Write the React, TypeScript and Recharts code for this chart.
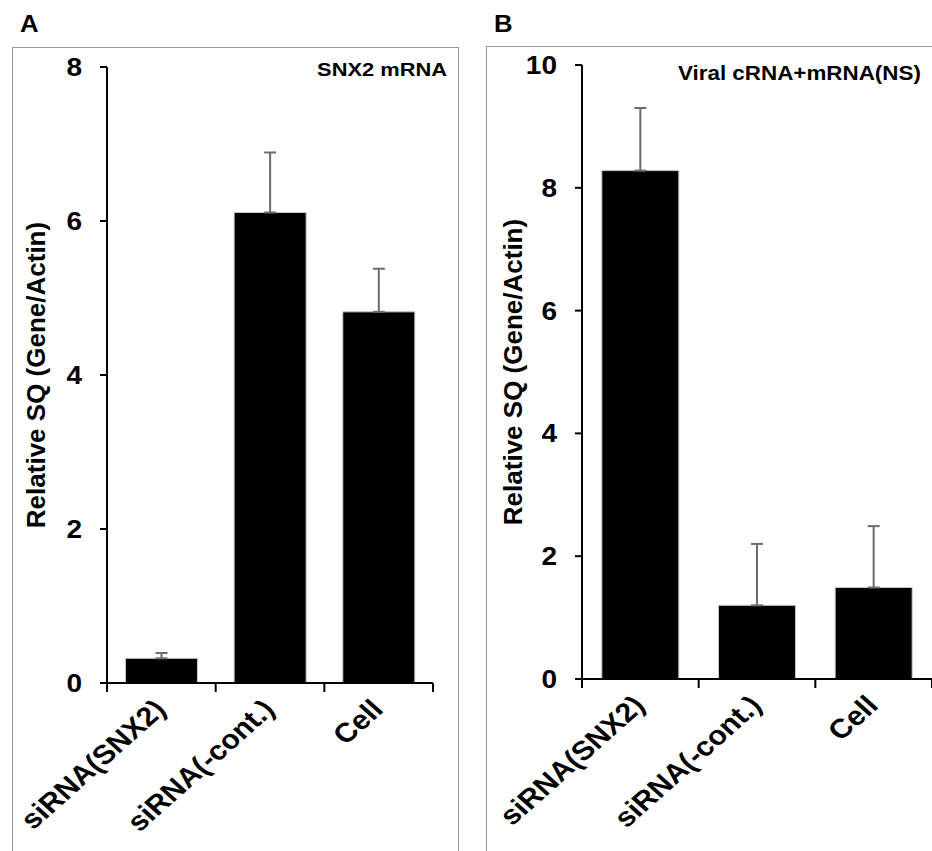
import React from 'react';
import { BarChart, Bar, XAxis, YAxis, ErrorBar, Label } from 'recharts';

const categories = ['siRNA(SNX2)', 'siRNA(-cont.)', 'Cell'];

// panel A: SNX2 mRNA
const snx2Values = [0.32, 6.11, 4.82];
const snx2Errors = [0.07, 0.78, 0.56];
const snx2Ticks = [0, 2, 4, 6, 8];

// panel B: viral cRNA + mRNA (NS)
const viralValues = [8.28, 1.2, 1.49];
const viralErrors = [1.02, 1.0, 1.0];
const viralTicks = [0, 2, 4, 6, 8, 10];

const yTitle = 'Relative SQ (Gene/Actin)';
const FONT = '"Liberation Sans", Arial, sans-serif';
// the source figure is a little wider than tall, text included
const STRETCH = 1.12;

const buildRows = (values: number[], errors: number[]) =>
  categories.map((name, i) => ({ name, value: values[i], err: [0, errors[i]] }));

const CategoryTick = (props: any) => {
  const { x, y, payload, index, band, count } = props;
  const half = band / 2;
  return (
    <g>
      <line x1={x - half} y1={y} x2={x - half} y2={y + 9} stroke="#000" strokeWidth={2} />
      {index === count - 1 && (
        <line x1={x + half} y1={y} x2={x + half} y2={y + 9} stroke="#000" strokeWidth={2} />
      )}
      <text
        x={0}
        y={0}
        transform={`translate(${x + 6},${y + 28}) scale(${STRETCH},1) rotate(-45)`}
        textAnchor="end"
        fontSize={27}
        fontWeight="bold"
        fontFamily={FONT}
        fill="#000"
      >
        {payload.value}
      </text>
    </g>
  );
};

const ValueTick = (props: any) => {
  const { x, y, payload } = props;
  return (
    <text
      x={0}
      y={0}
      dy="0.36em"
      transform={`translate(${x},${y}) scale(${STRETCH},1)`}
      textAnchor="end"
      fontSize={25}
      fontWeight="bold"
      fontFamily={FONT}
      fill="#000"
    >
      {payload.value}
    </text>
  );
};

interface PanelProps {
  left: number;
  width: number;
  margin: { top: number; right: number; bottom: number; left: number };
  yWidth: number;
  xHeight: number;
  values: number[];
  errors: number[];
  ticks: number[];
  titleOffset: number;
}

const Panel = ({ left, width, margin, yWidth, xHeight, values, errors, ticks, titleOffset }: PanelProps) => {
  const data = buildRows(values, errors);
  const band = (width - margin.left - margin.right - yWidth) / categories.length;
  return (
    <div style={{ position: 'absolute', left, top: 0 }}>
      <BarChart width={width} height={851} data={data} margin={margin} barCategoryGap="17%">
        <XAxis
          dataKey="name"
          height={xHeight}
          stroke="#000"
          strokeWidth={2}
          tickLine={false}
          tickSize={0}
          tickMargin={0}
          interval={0}
          tick={<CategoryTick band={band} count={categories.length} />}
        />
        <YAxis
          width={yWidth}
          domain={[0, ticks[ticks.length - 1]]}
          ticks={ticks}
          interval={0}
          stroke="#000"
          strokeWidth={2}
          tickSize={7}
          tickMargin={18}
          tick={<ValueTick />}
        >
          <Label
            value={yTitle}
            position="insideLeft"
            offset={titleOffset}
            angle={-90}
            style={{ textAnchor: 'middle' }}
            fontSize={26}
            fontWeight="bold"
            fontFamily={FONT}
            fill="#000"
          />
        </YAxis>
        <Bar dataKey="value" fill="#000" stroke="#c8c8c8" strokeWidth={1} isAnimationActive={false}>
          <ErrorBar dataKey="err" direction="y" width={6} stroke="#6b6b6b" strokeWidth={2} isAnimationActive={false} />
        </Bar>
      </BarChart>
    </div>
  );
};

const textBase: React.CSSProperties = {
  position: 'absolute',
  fontFamily: FONT,
  fontWeight: 'bold',
  color: '#000',
  lineHeight: 1,
  whiteSpace: 'nowrap',
};

export default function App() {
  return (
    <div
      style={{
        position: 'absolute',
        left: 0,
        top: 0,
        width: 932,
        height: 851,
        overflow: 'hidden',
        background: '#fff',
      }}
    >
      <div style={{ position: 'absolute', left: 12, top: 47, width: 445, height: 900, border: '1px solid #999' }} />
      <div style={{ position: 'absolute', left: 486, top: 46, width: 500, height: 900, border: '1px solid #999' }} />

      <Panel
        left={0}
        width={470}
        margin={{ top: 67, right: 37, bottom: 0, left: 0 }}
        yWidth={107}
        xHeight={168}
        values={snx2Values}
        errors={snx2Errors}
        ticks={snx2Ticks}
        titleOffset={36}
      />
      <Panel
        left={470}
        width={470}
        margin={{ top: 65, right: 8, bottom: 0, left: 0 }}
        yWidth={112}
        xHeight={172}
        values={viralValues}
        errors={viralErrors}
        ticks={viralTicks}
        titleOffset={43}
      />

      <div style={{ ...textBase, left: 20, top: 13, fontSize: 23, transform: `scaleX(${STRETCH})`, transformOrigin: 'left center' }}>A</div>
      <div style={{ ...textBase, left: 494, top: 13, fontSize: 23, transform: `scaleX(${STRETCH})`, transformOrigin: 'left center' }}>B</div>
      <div
        style={{
          ...textBase,
          right: 932 - 447,
          top: 60,
          fontSize: 19,
          transform: 'scaleX(1.15)',
          transformOrigin: 'right center',
        }}
      >
        SNX2 mRNA
      </div>
      <div
        style={{
          ...textBase,
          right: 932 - 921,
          top: 63,
          fontSize: 20,
          transform: 'scaleX(1.12)',
          transformOrigin: 'right center',
        }}
      >
        Viral cRNA+mRNA(NS)
      </div>
    </div>
  );
}
